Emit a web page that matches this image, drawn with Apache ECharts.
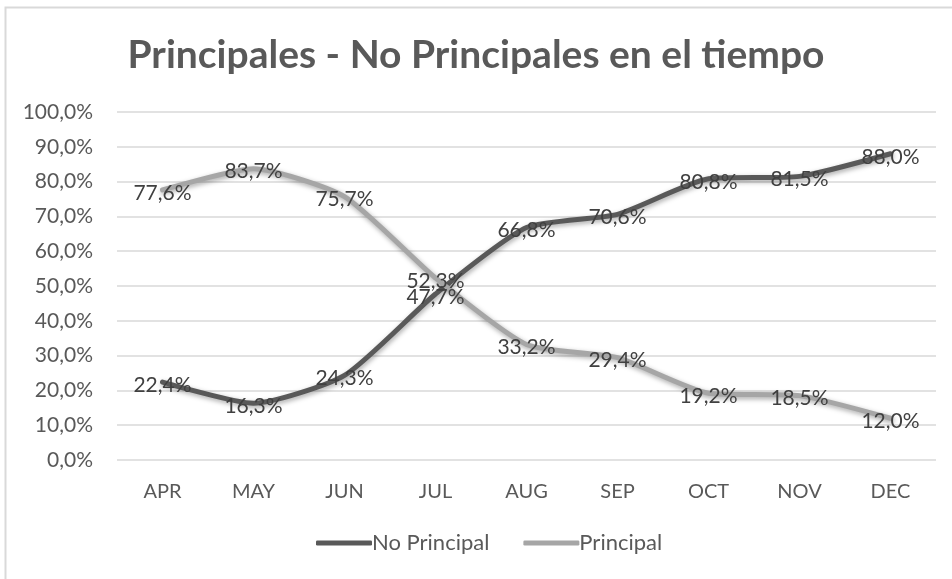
<!DOCTYPE html>
<html>
<head>
<meta charset="utf-8">
<script src="https://cdn.jsdelivr.net/npm/echarts@6/dist/echarts.min.js"></script>
<style>html,body{margin:0;padding:0;background:#fff;}#c{width:952px;height:579px;}</style>
</head>
<body>
<div id="c"></div>
<script>
const titleText = 'Principales - No Principales en el tiempo';
const categories = ['APR','MAY','JUN','JUL','AUG','SEP','OCT','NOV','DEC'];
const noPrincipal = [22.4, 16.3, 24.3, 47.7, 66.8, 70.6, 80.8, 81.5, 88.0];
const principal = [77.6, 83.7, 75.7, 52.3, 33.2, 29.4, 19.2, 18.5, 12.0];
const seriesNames = ['No Principal', 'Principal'];
const seriesColors = ['#595959', '#a6a6a6'];

const FONT = 'Lato, "Open Sans", sans-serif';
const fmt = v => v.toFixed(1).replace('.', ',') + '%';

function mkSeries(name, data, color) {
  return {
    name, type: 'line', data, smooth: 0.2,
    symbol: 'circle', symbolSize: 0.1, showSymbol: true,
    lineStyle: { color, width: 5, cap: 'round', join: 'round',
      shadowColor: 'rgba(0,0,0,0.35)', shadowBlur: 5, shadowOffsetX: 1, shadowOffsetY: 2 },
    itemStyle: { color },
    label: { show: true, position: 'inside', offset: [0, 3], color: '#404040',
      fontFamily: FONT, fontSize: 21, formatter: p => fmt(p.value) },
    emphasis: { disabled: true }, animation: false
  };
}

const chart = echarts.init(document.getElementById('c'), null, { renderer: 'canvas' });
chart.setOption({
  animation: false,
  backgroundColor: '#fff',
  title: { text: titleText, left: 'center', top: 31,
    textStyle: { fontFamily: FONT, fontWeight: 'bold', fontSize: 39, color: '#595959' } },
  graphic: [{ type: 'rect', shape: { x: 5.5, y: 7.5, width: 960, height: 600 },
    style: { fill: 'none', stroke: '#d9d9d9', lineWidth: 2 }, silent: true }],
  legend: { bottom: 20, left: 311, itemWidth: 56, itemHeight: 5, itemGap: 34,
    icon: 'roundRect',
    textStyle: { fontFamily: FONT, fontSize: 22, color: '#595959', padding: [0,0,0,-5] },
    data: seriesNames },
  grid: { left: 117, right: 16, top: 112, bottom: 119, containLabel: false },
  xAxis: { type: 'category', data: categories, boundaryGap: true,
    axisLine: { show: false }, axisTick: { show: false },
    axisLabel: { color: '#595959', fontFamily: FONT, fontSize: 20, margin: 22 } },
  yAxis: { type: 'value', min: 0, max: 100, interval: 10,
    axisLine: { show: false }, axisTick: { show: false },
    splitLine: { lineStyle: { color: '#d9d9d9', width: 1.5 } },
    axisLabel: { color: '#595959', fontFamily: FONT, fontSize: 21, margin: 24, formatter: v => fmt(v) } },
  series: [
    mkSeries(seriesNames[0], noPrincipal, seriesColors[0]),
    mkSeries(seriesNames[1], principal, seriesColors[1])
  ]
});
</script>
</body>
</html>
